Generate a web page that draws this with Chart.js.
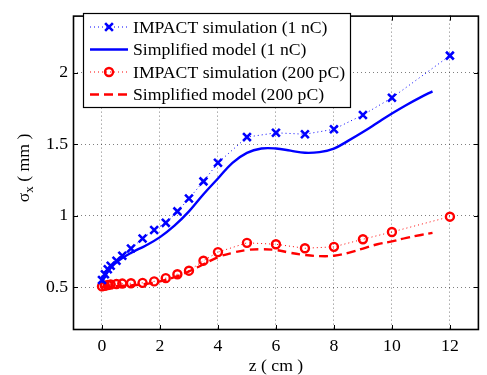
<!DOCTYPE html>
<html>
<head>
<meta charset="utf-8">
<script src="https://cdn.jsdelivr.net/npm/chart.js@4.4.0/dist/chart.umd.min.js"></script>
<style>
  html, body { margin: 0; padding: 0; background: #fff; }
  canvas { display: block; }
</style>
</head>
<body>
<canvas id="myChart" width="487" height="375" style="width:487px;height:375px"></canvas>
<script>
// IMPACT simulation points (z in cm)
const simZ = [0, 0.1, 0.2, 0.3, 0.5, 0.7, 1.0, 1.4, 1.8, 2.2, 2.6, 3.0, 3.5, 4, 5, 6, 7, 8, 9, 10, 12];
const sim1nC = [0.55, 0.59, 0.625, 0.65, 0.685, 0.72, 0.77, 0.84, 0.90, 0.95, 1.03, 1.12, 1.24, 1.37, 1.55, 1.58, 1.57, 1.605, 1.705, 1.825, 2.12];
const sim200pC = [0.505, 0.51, 0.515, 0.518, 0.522, 0.525, 0.527, 0.53, 0.54, 0.563, 0.59, 0.615, 0.685, 0.745, 0.81, 0.80, 0.772, 0.782, 0.835, 0.886, 0.993];

// simplified model curves
const modelZ = [0, 0.1, 0.3, 0.6, 1.0, 1.5, 2.0, 2.5, 3.0, 3.5, 4.0, 4.5, 5.0, 5.5, 6.0, 6.5, 7.0, 7.5, 8.0, 8.5, 9.0, 9.5, 10, 10.5, 11, 11.4];
const model1nC = [0.53, 0.575, 0.635, 0.69, 0.74, 0.79, 0.85, 0.93, 1.03, 1.15, 1.26, 1.37, 1.44, 1.47, 1.47, 1.455, 1.44, 1.445, 1.47, 1.525, 1.585, 1.65, 1.715, 1.775, 1.83, 1.87];
const model200pC = [0.5, 0.502, 0.505, 0.508, 0.512, 0.522, 0.54, 0.57, 0.61, 0.66, 0.71, 0.74, 0.76, 0.765, 0.76, 0.74, 0.725, 0.717, 0.72, 0.74, 0.77, 0.80, 0.82, 0.845, 0.865, 0.88];

const labels = ['IMPACT simulation (1 nC)', 'Simplified model (1 nC)', 'IMPACT simulation (200 pC)', 'Simplified model (200 pC)'];
const xTicks = [0, 2, 4, 6, 8, 10, 12];
const yTicks = [0.5, 1, 1.5, 2];

const FONT = '"Liberation Serif", "Times New Roman", serif';
const FSIZE = 17.7;

function pts(xs, ys) {
    return xs.map((x, i) => ({ x: x, y: ys[i] }));
}

// box, inward ticks, axis titles and legend, drawn MATLAB style
const matlabFrame = {
    id: 'matlabFrame',
    afterDraw(chart) {
        const ctx = chart.ctx;
        const a = chart.chartArea;
        const xs = chart.scales.x, ys = chart.scales.y;
        ctx.save();
        ctx.strokeStyle = '#000';
        ctx.lineWidth = 1.6;
        ctx.setLineDash([]);
        ctx.strokeRect(a.left + 0.5, a.top + 0.5, a.right - a.left - 1, a.bottom - a.top - 1);
        ctx.lineWidth = 1;
        ctx.beginPath();
        xTicks.forEach(v => {
            const px = Math.round(xs.getPixelForValue(v)) + 0.5;
            ctx.moveTo(px, a.bottom); ctx.lineTo(px, a.bottom - 5);
            ctx.moveTo(px, a.top); ctx.lineTo(px, a.top + 5);
        });
        yTicks.forEach(v => {
            const py = Math.round(ys.getPixelForValue(v)) + 0.5;
            ctx.moveTo(a.left, py); ctx.lineTo(a.left + 5, py);
            ctx.moveTo(a.right, py); ctx.lineTo(a.right - 5, py);
        });
        ctx.stroke();

        // x title
        ctx.fillStyle = '#000';
        ctx.font = FSIZE + 'px ' + FONT;
        ctx.textAlign = 'center';
        ctx.textBaseline = 'middle';
        ctx.fillText('z ( cm )', (a.left + a.right) / 2, 366);

        // y title with subscript
        ctx.save();
        ctx.translate(24, 168);
        ctx.rotate(-Math.PI / 2);
        ctx.textAlign = 'left';
        ctx.textBaseline = 'middle';
        const big = FSIZE + 'px ' + FONT, small = '13px ' + FONT;
        ctx.font = big;
        const w1 = ctx.measureText('\u03c3').width;
        const w3 = ctx.measureText(' ( mm )').width;
        ctx.font = small;
        const w2 = ctx.measureText('x').width;
        let x0 = -(w1 + w2 + w3) / 2;
        ctx.font = big;
        ctx.fillText('\u03c3', x0, 0);
        ctx.font = small;
        ctx.fillText('x', x0 + w1, 6);
        ctx.font = big;
        ctx.fillText(' ( mm )', x0 + w1 + w2, 0);
        ctx.restore();

        // legend
        const lx = 83, ly = 13, lw = 267, lh = 94;
        ctx.fillStyle = '#fff';
        ctx.fillRect(lx, ly, lw, lh);
        ctx.strokeStyle = '#000';
        ctx.lineWidth = 1.2;
        ctx.strokeRect(lx + 0.5, ly + 0.5, lw, lh);
        chart.data.datasets.forEach((ds, i) => {
            const y = 27 + i * 22.5;
            ctx.save();
            ctx.strokeStyle = ds.borderColor;
            ctx.lineWidth = ds.borderWidth;
            ctx.setLineDash(ds.borderDash || []);
            ctx.beginPath();
            ctx.moveTo(90, y); ctx.lineTo(128, y);
            ctx.stroke();
            ctx.restore();
            if (ds.pointRadius > 0) {
                ctx.save();
                ctx.strokeStyle = ds.pointBorderColor;
                ctx.fillStyle = 'rgba(0,0,0,0)';
                ctx.lineWidth = ds.pointBorderWidth;
                ctx.setLineDash([]);
                Chart.helpers.drawPoint(ctx, {
                    pointStyle: ds.pointStyle, radius: ds.pointRadius,
                    borderWidth: ds.pointBorderWidth, rotation: 0
                }, 109, y);
                ctx.restore();
            }
            ctx.fillStyle = '#000';
            ctx.font = FSIZE + 'px ' + FONT;
            ctx.textAlign = 'left';
            ctx.textBaseline = 'middle';
            ctx.fillText(ds.label, 133, y + 1);
        });
        ctx.restore();
    }
};

const ctx = document.getElementById('myChart').getContext('2d');
const myChart = new Chart(ctx, {
    type: 'scatter',
    data: {
        datasets: [
            {
                label: labels[0],
                data: pts(simZ, sim1nC),
                showLine: true,
                borderColor: '#0000ff',
                borderWidth: 1,
                borderDash: [1, 3],
                pointStyle: 'crossRot',
                pointRadius: 5.5,
                pointBorderWidth: 2.6,
                pointBorderColor: '#0000ff',
                pointBackgroundColor: 'rgba(0,0,0,0)',
                tension: 0
            },
            {
                label: labels[1],
                data: pts(modelZ, model1nC),
                showLine: true,
                borderColor: '#0000ff',
                borderWidth: 2.4,
                pointRadius: 0,
                tension: 0.4
            },
            {
                label: labels[2],
                data: pts(simZ, sim200pC),
                showLine: true,
                borderColor: '#ff0000',
                borderWidth: 1,
                borderDash: [1, 3],
                pointStyle: 'circle',
                pointRadius: 4,
                pointBorderWidth: 2.4,
                pointBorderColor: '#ff0000',
                pointBackgroundColor: 'rgba(0,0,0,0)',
                tension: 0
            },
            {
                label: labels[3],
                data: pts(modelZ, model200pC),
                showLine: true,
                borderColor: '#ff0000',
                borderWidth: 2.4,
                borderDash: [9, 5],
                pointRadius: 0,
                tension: 0.4
            }
        ]
    },
    options: {
        responsive: false,
        animation: false,
        layout: { padding: { left: 0, right: 5, top: 6, bottom: 0 } },
        plugins: {
            legend: { display: false },
            tooltip: { enabled: false }
        },
        scales: {
            x: {
                type: 'linear',
                min: -1,
                max: 13,
                afterBuildTicks: s => { s.ticks = xTicks.map(v => ({ value: v })); },
                afterFit: s => { s.height = 45; },
                grid: { color: 'rgba(0,0,0,0.5)', drawTicks: false, lineWidth: 1 },
                border: { display: false, dash: [1, 3] },
                ticks: { color: '#000', padding: 6, font: { family: FONT, size: FSIZE }, maxRotation: 0,
                         callback: v => String(v) }
            },
            y: {
                type: 'linear',
                min: 0.2,
                max: 2.4,
                afterBuildTicks: s => { s.ticks = yTicks.map(v => ({ value: v })); },
                afterFit: s => { s.width = 73; },
                grid: { color: 'rgba(0,0,0,0.5)', drawTicks: false, lineWidth: 1 },
                border: { display: false, dash: [1, 3] },
                ticks: { color: '#000', padding: 5, font: { family: FONT, size: FSIZE },
                         callback: v => String(v) }
            }
        }
    },
    plugins: [matlabFrame]
});
</script>
</body>
</html>
